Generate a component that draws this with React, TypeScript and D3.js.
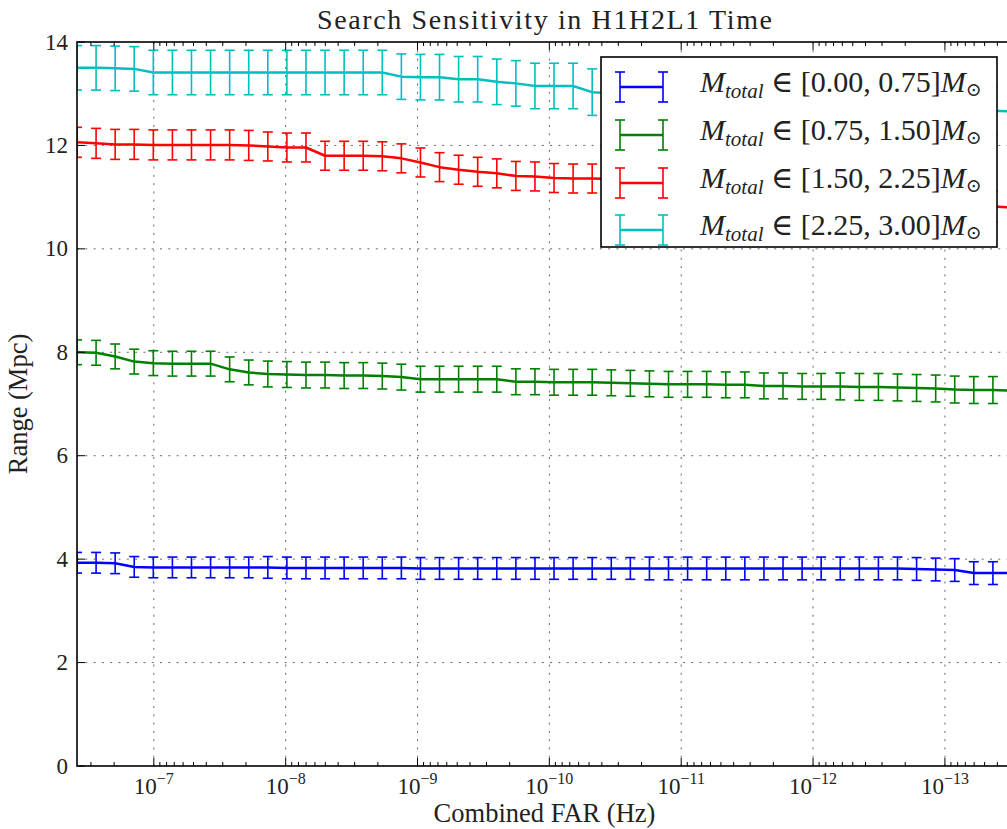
import React from "react";
import * as d3 from "d3";

const far = [
  3.825e-7, 2.741e-7, 1.964e-7, 1.408e-7, 1.009e-7, 7.228e-8, 5.18e-8, 3.712e-8, 2.66e-8, 1.906e-8,
  1.366e-8, 9.789e-9, 7.015e-9, 5.027e-9, 3.602e-9, 2.581e-9, 1.85e-9, 1.326e-9, 9.5e-10, 6.808e-10,
  4.878e-10, 3.496e-10, 2.505e-10, 1.795e-10, 1.286e-10, 9.218e-11, 6.606e-11, 4.734e-11, 3.392e-11, 2.431e-11,
  1.742e-11, 1.248e-11, 8.945e-12, 6.41e-12, 4.593e-12, 3.292e-12, 2.359e-12, 1.69e-12, 1.211e-12, 8.68e-13,
  6.22e-13, 4.457e-13, 3.194e-13, 2.289e-13, 1.64e-13, 1.175e-13, 8.423e-14, 6.036e-14, 4.325e-14, 3.099e-14,
];

// range (Mpc) per mass bin
const blueRange = [
  3.93, 3.93, 3.92, 3.85, 3.84, 3.84, 3.84, 3.84, 3.84, 3.84,
  3.84, 3.83, 3.83, 3.83, 3.83, 3.83, 3.83, 3.83, 3.82, 3.82,
  3.82, 3.82, 3.82, 3.82, 3.82, 3.82, 3.82, 3.82, 3.82, 3.82,
  3.82, 3.82, 3.82, 3.82, 3.82, 3.82, 3.82, 3.82, 3.82, 3.82,
  3.82, 3.82, 3.82, 3.82, 3.81, 3.8, 3.79, 3.73, 3.73, 3.73,
];
const blueErr = [
  0.2, 0.2, 0.2, 0.2, 0.2, 0.2, 0.2, 0.2, 0.2, 0.2,
  0.21, 0.21, 0.21, 0.21, 0.21, 0.21, 0.21, 0.21, 0.21, 0.21,
  0.21, 0.21, 0.21, 0.21, 0.21, 0.21, 0.21, 0.21, 0.21, 0.21,
  0.22, 0.22, 0.22, 0.22, 0.22, 0.22, 0.22, 0.22, 0.22, 0.22,
  0.22, 0.22, 0.22, 0.22, 0.22, 0.22, 0.22, 0.22, 0.22, 0.22,
];
const greenRange = [
  8.0, 7.99, 7.92, 7.82, 7.79, 7.78, 7.78, 7.78, 7.67, 7.61,
  7.58, 7.57, 7.56, 7.56, 7.55, 7.55, 7.54, 7.52, 7.48, 7.48,
  7.48, 7.48, 7.48, 7.43, 7.43, 7.42, 7.42, 7.42, 7.41, 7.4,
  7.39, 7.38, 7.38, 7.38, 7.37, 7.37, 7.35, 7.35, 7.34, 7.34,
  7.34, 7.33, 7.33, 7.32, 7.31, 7.3, 7.28, 7.27, 7.27, 7.26,
];
const greenErr = [
  0.24, 0.24, 0.24, 0.24, 0.24, 0.24, 0.24, 0.24, 0.24, 0.24,
  0.25, 0.25, 0.25, 0.25, 0.25, 0.25, 0.25, 0.25, 0.25, 0.25,
  0.25, 0.25, 0.25, 0.25, 0.25, 0.25, 0.25, 0.25, 0.25, 0.25,
  0.25, 0.25, 0.25, 0.25, 0.25, 0.25, 0.25, 0.25, 0.25, 0.25,
  0.26, 0.26, 0.26, 0.26, 0.26, 0.26, 0.26, 0.26, 0.26, 0.26,
];
const redRange = [
  12.06, 12.04, 12.02, 12.02, 12.01, 12.01, 12.01, 12.01, 12.01, 12.0,
  11.98, 11.96, 11.96, 11.8, 11.8, 11.8, 11.79, 11.75, 11.67, 11.58,
  11.53, 11.49, 11.46, 11.41, 11.4, 11.37, 11.36, 11.36, 11.35, 11.33,
  11.3, 11.28, 11.25, 11.22, 11.2, 11.18, 11.15, 11.12, 11.1, 11.07,
  11.05, 11.02, 11.0, 10.97, 10.94, 10.9, 10.87, 10.85, 10.82, 10.8,
];
const redErr = [
  0.29, 0.29, 0.29, 0.29, 0.29, 0.29, 0.29, 0.29, 0.29, 0.29,
  0.28, 0.28, 0.28, 0.28, 0.28, 0.28, 0.28, 0.28, 0.28, 0.28,
  0.28, 0.28, 0.28, 0.28, 0.28, 0.28, 0.28, 0.28, 0.28, 0.28,
  0.29, 0.29, 0.29, 0.29, 0.29, 0.29, 0.29, 0.29, 0.29, 0.29,
  0.3, 0.3, 0.3, 0.3, 0.3, 0.3, 0.3, 0.3, 0.3, 0.3,
];
const cyanRange = [
  13.5, 13.5, 13.49, 13.48, 13.41, 13.41, 13.41, 13.41, 13.41, 13.41,
  13.41, 13.41, 13.41, 13.41, 13.41, 13.41, 13.41, 13.33, 13.32, 13.32,
  13.28, 13.28, 13.23, 13.2, 13.15, 13.15, 13.15, 13.03, 13.01, 12.99,
  12.97, 12.95, 12.93, 12.91, 12.89, 12.87, 12.85, 12.83, 12.81, 12.79,
  12.77, 12.76, 12.75, 12.73, 12.72, 12.7, 12.69, 12.68, 12.67, 12.66,
];
const cyanErr = [
  0.43, 0.43, 0.43, 0.43, 0.43, 0.43, 0.43, 0.43, 0.43, 0.43,
  0.43, 0.43, 0.43, 0.43, 0.43, 0.43, 0.43, 0.44, 0.44, 0.44,
  0.44, 0.44, 0.44, 0.44, 0.44, 0.44, 0.44, 0.45, 0.45, 0.45,
  0.45, 0.45, 0.45, 0.45, 0.45, 0.45, 0.45, 0.45, 0.45, 0.45,
  0.45, 0.45, 0.45, 0.45, 0.45, 0.45, 0.45, 0.45, 0.45, 0.45,
];

const massBins = ["[0.00, 0.75]", "[0.75, 1.50]", "[1.50, 2.25]", "[2.25, 3.00]"];
const colors = ["#0000ff", "#008000", "#ff0000", "#00bfbf"];
const yTicks = [0, 2, 4, 6, 8, 10, 12, 14];
const xTickExps = [-7, -8, -9, -10, -11, -12, -13];

const series = [
  { values: blueRange, err: blueErr },
  { values: greenRange, err: greenErr },
  { values: redRange, err: redErr },
  { values: cyanRange, err: cyanErr },
];

const font = "'Liberation Serif', 'DejaVu Serif', serif";

const App = () => {
  const width = 1007;
  const height = 829;
  const plot = { left: 77, right: 1012, top: 42, bottom: 766 };

  const x = d3.scaleLog().domain([far[0], far[far.length - 1]]).range([plot.left, plot.right]);
  const y = d3.scaleLinear().domain([0, 14]).range([plot.bottom, plot.top]);

  const line = d3
    .line<number>()
    .x((_, i) => x(far[i]))
    .y((d) => y(d));

  const allTicks = x.ticks();
  const isMajor = (v: number) => Math.abs(Math.log10(v) - Math.round(Math.log10(v))) < 1e-6;
  const minorTicks = allTicks.filter((v) => !isMajor(v));
  const majorX = xTickExps.map((e) => Math.pow(10, e));

  const cap = 5;
  const gridDash = "2,6.3";

  // legend
  const lg = { x: 601, y: 57, w: 396, h: 190 };
  const rowY = [87, 135, 183, 230];

  return (
    <svg
      width={width}
      height={height}
      style={{ position: "absolute", left: 0, top: 0, background: "#fff" }}
      fontFamily={font}
    >
      <defs>
        <clipPath id="plotClip">
          <rect x={plot.left} y={plot.top} width={plot.right - plot.left} height={plot.bottom - plot.top} />
        </clipPath>
      </defs>
      <rect x={0} y={0} width={width} height={height} fill="#fff" />

      {/* grid */}
      <g stroke="#000" strokeWidth={0.8} strokeDasharray={gridDash} opacity={0.75}>
        {majorX.map((v) => (
          <line key={"gx" + v} x1={x(v)} x2={x(v)} y1={plot.top} y2={plot.bottom} />
        ))}
        {yTicks.slice(1, -1).map((v) => (
          <line key={"gy" + v} x1={plot.left} x2={plot.right} y1={y(v)} y2={y(v)} />
        ))}
      </g>

      {/* series */}
      <g clipPath="url(#plotClip)">
        {series.map((s, si) => (
          <g key={si} stroke={colors[si]} fill="none">
            {s.values.map((v, i) => {
              const cx = x(far[i]);
              const y1 = y(v + s.err[i]);
              const y2 = y(v - s.err[i]);
              return (
                <g key={i} strokeWidth={1.6}>
                  <line x1={cx} x2={cx} y1={y1} y2={y2} />
                  <line x1={cx - cap} x2={cx + cap} y1={y1} y2={y1} />
                  <line x1={cx - cap} x2={cx + cap} y1={y2} y2={y2} />
                </g>
              );
            })}
            <path d={line(s.values) || ""} strokeWidth={2.5} strokeLinejoin="round" />
          </g>
        ))}
      </g>

      {/* ticks */}
      <g stroke="#000" strokeWidth={1}>
        {majorX.map((v) => (
          <g key={"mx" + v}>
            <line x1={x(v)} x2={x(v)} y1={plot.bottom} y2={plot.bottom - 8} />
            <line x1={x(v)} x2={x(v)} y1={plot.top} y2={plot.top + 8} />
          </g>
        ))}
        {minorTicks.map((v) => (
          <g key={"nx" + v}>
            <line x1={x(v)} x2={x(v)} y1={plot.bottom} y2={plot.bottom - 4} />
            <line x1={x(v)} x2={x(v)} y1={plot.top} y2={plot.top + 4} />
          </g>
        ))}
        {yTicks.map((v) => (
          <line key={"ty" + v} x1={plot.left} x2={plot.left + 8} y1={y(v)} y2={y(v)} />
        ))}
      </g>

      {/* spines */}
      <rect
        x={plot.left}
        y={plot.top}
        width={plot.right - plot.left}
        height={plot.bottom - plot.top}
        fill="none"
        stroke="#000"
        strokeWidth={1.6}
      />

      {/* tick labels */}
      <g fontSize={23} fill="#222">
        {yTicks.map((v) => (
          <text key={"ly" + v} x={plot.left - 9} y={y(v)} textAnchor="end" dominantBaseline="central">
            {v}
          </text>
        ))}
        {xTickExps.map((e) => (
          <text key={"lx" + e} x={x(Math.pow(10, e))} y={794} textAnchor="middle">
            10
            <tspan fontSize={16} dy={-10}>
              {"\u2212" + Math.abs(e)}
            </tspan>
          </text>
        ))}
      </g>

      {/* labels */}
      <text
        x={(plot.left + plot.right) / 2}
        y={29}
        textAnchor="middle"
        fontSize={28}
        fill="#222"
        textLength={455}
        lengthAdjust="spacing"
      >
        Search Sensitivity in H1H2L1 Time
      </text>
      <text x={(plot.left + plot.right) / 2} y={822} textAnchor="middle" fontSize={26.5} fill="#222">
        Combined FAR (Hz)
      </text>
      <text
        transform={`translate(27, ${(plot.top + plot.bottom) / 2}) rotate(-90)`}
        textAnchor="middle"
        fontSize={26.5}
        fill="#222"
      >
        Range (Mpc)
      </text>

      {/* legend */}
      <g>
        <rect x={lg.x} y={lg.y} width={lg.w} height={lg.h} fill="#fff" stroke="#000" strokeWidth={1.6} />
        {massBins.map((b, i) => {
          const ry = rowY[i];
          const hx1 = 620;
          const hx2 = 663;
          return (
            <g key={b}>
              <g stroke={colors[i]} strokeWidth={1.6}>
                <line x1={hx1} x2={hx2} y1={ry} y2={ry} strokeWidth={2.5} />
                {[hx1, hx2].map((hx) => (
                  <g key={hx}>
                    <line x1={hx} x2={hx} y1={ry - 15} y2={ry + 15} />
                    <line x1={hx - cap} x2={hx + cap} y1={ry - 15} y2={ry - 15} />
                    <line x1={hx - cap} x2={hx + cap} y1={ry + 15} y2={ry + 15} />
                  </g>
                ))}
              </g>
              <text x={700} y={ry + 5} fontSize={30} fill="#222">
                <tspan fontStyle="italic">M</tspan>
                <tspan fontStyle="italic" fontSize={21} dy={6}>
                  total
                </tspan>
                <tspan dy={-6}>{" \u2208 " + b}</tspan>
                <tspan fontStyle="italic">M</tspan>
                <tspan fontSize={19} dy={4}>
                  {"\u2299"}
                </tspan>
              </text>
            </g>
          );
        })}
      </g>
    </svg>
  );
};

export default App;
